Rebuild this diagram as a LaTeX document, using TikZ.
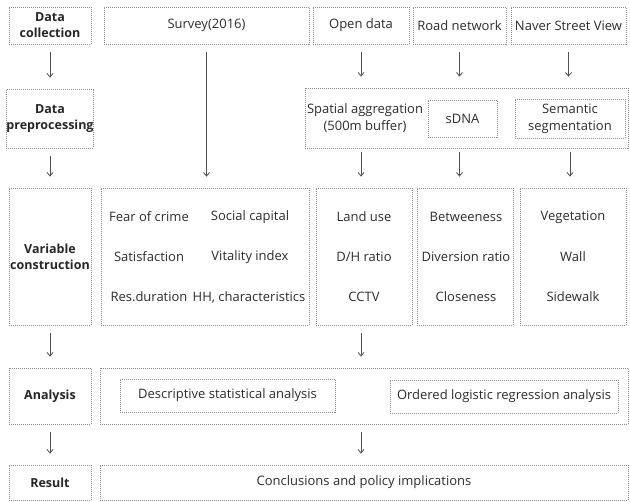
\documentclass[tikz,border=0pt]{standalone}
\usepackage{fontspec}
\setmainfont{Open Sans}
\usetikzlibrary{arrows.meta}
\definecolor{txt}{HTML}{2C2C2C}
\definecolor{bord}{HTML}{8C8C8C}
\definecolor{arr}{HTML}{505050}
\tikzset{
  bx/.style={draw=bord, line width=0.8pt, dash pattern=on 1pt off 1pt, inner sep=0pt, align=center, text=txt},
  lbl/.style={bx, font=\bfseries\fontsize{12.5}{16}\selectfont, text=black!85, minimum width=82pt},
  tx/.style={font=\fontsize{13}{17}\selectfont, text=txt, inner sep=0pt, align=center},
  conn/.style={draw=arr, line width=0.8pt, -{Straight Barb[length=3.5pt,width=6pt]}, shorten <=8pt, shorten >=11pt}
}
\begin{document}
\begin{tikzpicture}[x=1pt,y=-1pt]
\useasboundingbox (0,0) rectangle (630,502);
% row 1
\node[lbl, minimum height=37pt] (dc) at (50,25.5) {Data\\collection};
\node[bx, tx, minimum width=205pt, minimum height=37pt] (survey) at (206.5,25.5) {Survey(2016)};
\node[bx, tx, minimum width=96pt, minimum height=37pt] (open) at (361,25.5) {Open data};
\node[bx, tx, minimum width=93pt, minimum height=37pt] (road) at (459.5,25.5) {Road network};
\node[bx, tx, minimum width=115pt, minimum height=37pt] (naver) at (568.5,25.5) {Naver Street View};
% row 2
\node[lbl, minimum height=59pt] (dp) at (50,118.5) {Data\\preprocessing};
\node[bx, minimum width=323pt, minimum height=60pt] (spatial) at (466.5,118) {};
\node[tx] (spt) at (365,118) {Spatial aggregation\\(500m buffer)};
\node[bx, tx, minimum width=69pt, minimum height=37pt] (sdna) at (462.5,118.5) {sDNA};
\node[bx, tx, minimum width=110pt, minimum height=39pt] (sem) at (570,118.5) {Semantic\\segmentation};
% row 3
\node[lbl, minimum height=137pt] (vc) at (50,256.5) {Variable\\construction};
\node[bx, minimum width=208pt, minimum height=137pt] (survvar) at (205,256.5) {};
\node[tx] (v1) at (149,217) {Fear of crime};
\node[tx] (v2) at (250,217) {Social capital};
\node[tx] (v3) at (149,257) {Satisfaction};
\node[tx] (v4) at (250,257) {Vitality index};
\node[tx] (v5) at (149,297) {Res.duration};
\node[tx] (v6) at (249,297) {HH, characteristics};
\node[bx, minimum width=96pt, minimum height=137pt] (land) at (364,256.5) {};
\node[tx] (l1) at (364,217) {Land use};
\node[tx] (l2) at (364,257) {D/H ratio};
\node[tx] (l3) at (364,297) {CCTV};
\node[bx, minimum width=96pt, minimum height=137pt] (betw) at (465,256.5) {};
\node[tx] (b1) at (466,217) {Betweeness};
\node[tx] (b2) at (466,257) {Diversion ratio};
\node[tx] (b3) at (466,297) {Closeness};
\node[bx, minimum width=106pt, minimum height=137pt] (veg) at (573,256.5) {};
\node[tx] (g1) at (573,217) {Vegetation};
\node[tx] (g2) at (573,257) {Wall};
\node[tx] (g3) at (573,297) {Sidewalk};
% row 4
\node[lbl, minimum height=56pt] (an) at (50,396) {Analysis};
\node[bx, minimum width=528pt, minimum height=56pt] (anout) at (364,396) {};
\node[bx, tx, minimum width=215pt, minimum height=33pt] (desc) at (227.5,395.5) {Descriptive statistical analysis};
\node[bx, tx, minimum width=228pt, minimum height=33pt] (ord) at (504,396.5) {Ordered logistic regression analysis};
% row 5
\node[lbl, minimum height=35pt] (res) at (50,482.5) {Result};
\node[bx, tx, minimum width=528pt, minimum height=35pt] (concl) at (364,482.5) {Conclusions and policy implications};
% connectors
\draw[conn] (dc.south) -- (dc.south |- dp.north);
\draw[conn] (dp.south) -- (dp.south |- vc.north);
\draw[conn] (vc.south) -- (vc.south |- an.north);
\draw[conn] (an.south) -- (an.south |- res.north);
\draw[conn] (survey.south) -- (survey.south |- survvar.north);
\draw[conn] (open.south) -- (open.south |- spatial.north);
\draw[conn] (road.south) -- (road.south |- spatial.north);
\draw[conn] (naver.south) -- (naver.south |- spatial.north);
\draw[conn, shorten <=4pt] (open.south |- spatial.south) -- (open.south |- land.north);
\draw[conn, shorten <=4pt] (road.south |- spatial.south) -- (road.south |- betw.north);
\draw[conn, shorten <=4pt] (sem.south |- spatial.south) -- (sem.south |- veg.north);
\draw[conn] (open.south |- land.south) -- (open.south |- anout.north);
\draw[conn] (open.south |- anout.south) -- (open.south |- concl.north);
\end{tikzpicture}
\end{document}
